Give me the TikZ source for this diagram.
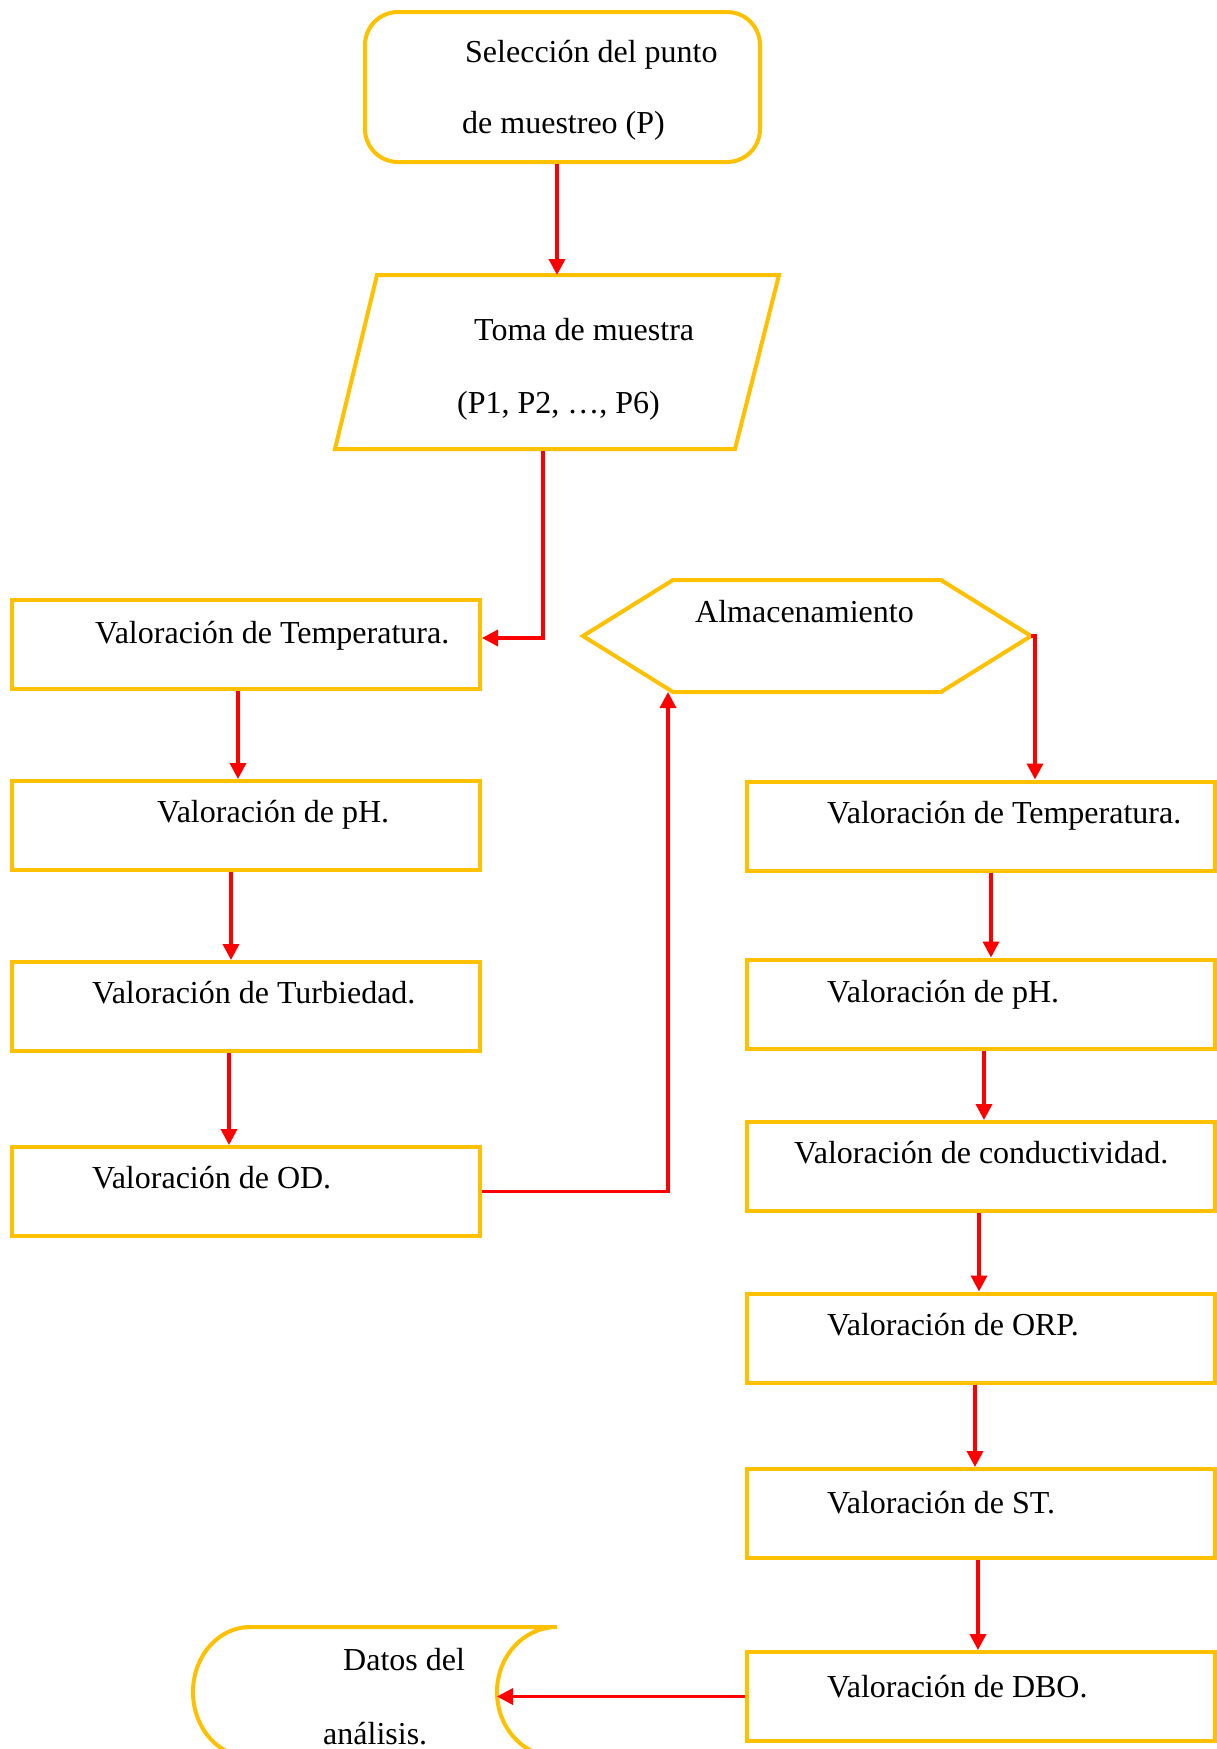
\documentclass[tikz,border=0pt]{standalone}
\usepackage{fontspec}
\setmainfont{Liberation Serif}
\usetikzlibrary{arrows.meta}
\definecolor{amarillo}{HTML}{FFC000}
\definecolor{rojo}{HTML}{FF0000}

\begin{document}
\begin{tikzpicture}[x=1pt, y=-1pt,
    forma/.style={draw=amarillo, line width=4pt},
    caja/.style={forma, minimum width=468pt, minimum height=89pt, inner sep=0pt},
    texto/.style={anchor=west, inner sep=0pt, text height=21pt, text depth=0pt, font=\fontsize{32}{38}\selectfont},
    flecha/.style={draw=rojo, line width=3.5pt, -{Triangle[length=16pt, width=16pt]}}]
    \useasboundingbox (0,0) rectangle (1217,1749);

    \node[forma, rounded corners=33pt, minimum width=395pt, minimum height=150pt, inner sep=0pt] (sel) at (562.5,87) {};
    \node[texto] (selA) at (465,52) {Selección del punto};
    \node[texto] (selB) at (462,123) {de muestreo (P)};

    \draw[forma] (335,449) -- (377,275) -- (779,275) -- (735,449) -- cycle;
    \coordinate (tomaN) at (557,275);
    \coordinate (tomaS) at (543,451);
    \node[texto] (tomaA) at (474,330) {Toma de muestra};
    \node[texto] (tomaB) at (457,403) {(P1, P2, …, P6)};

    \draw[forma] (583,636) -- (673,580) -- (941,580) -- (1031,636) -- (941,692) -- (673,692) -- cycle;
    \coordinate (almR) at (1031,636);
    \coordinate (almB) at (668,692);
    \node[texto] (almA) at (695,612) {Almacenamiento};

    \node[caja] (tempA) at (246,644.5) {};
    \node[caja] (phA) at (246,825.5) {};
    \node[caja] (turb) at (246,1006.5) {};
    \node[caja] (od) at (246,1191.5) {};
    \node[texto] (tempAtxt) at (95,633) {Valoración de Temperatura.};
    \node[texto] (phAtxt) at (157,812) {Valoración de pH.};
    \node[texto] (turbtxt) at (92,993) {Valoración de Turbiedad.};
    \node[texto] (odtxt) at (92,1178) {Valoración de OD.};

    \node[caja] (tempB) at (981,826) {};
    \node[caja] (phB) at (981,1004) {};
    \node[caja] (cond) at (981,1166.5) {};
    \node[caja] (orp) at (981,1338) {};
    \node[caja] (st) at (981,1513.5) {};
    \node[caja] (dbo) at (981,1696.5) {};
    \node[texto] (tempBtxt) at (827,813) {Valoración de Temperatura.};
    \node[texto] (phBtxt) at (827,992) {Valoración de pH.};
    \node[texto] (condtxt) at (794,1153) {Valoración de conductividad.};
    \node[texto] (orptxt) at (827,1325) {Valoración de ORP.};
    \node[texto] (sttxt) at (827,1502.5) {Valoración de ST.};
    \node[texto] (dbotxt) at (827,1686.5) {Valoración de DBO.};

    \draw[forma] (250,1627) -- (557,1627) arc[start angle=90, end angle=270, x radius=60pt, y radius=65pt]
        -- (250,1757) arc[start angle=270, end angle=90, x radius=57pt, y radius=65pt] -- cycle;
    \coordinate (datosE) at (497,1693);
    \node[texto] (datosA) at (343,1660) {Datos del};
    \node[texto] (datosB) at (323,1734) {análisis.};

    \draw[flecha] (sel.south -| tomaN) -- (tomaN);
    \draw[flecha] (tomaS) |- ([yshift=6.5pt]tempA.east);
    \draw[flecha] ([xshift=-8pt]tempA.south) -- ([xshift=-8pt]phA.north);
    \draw[flecha] ([xshift=-15pt]phA.south) -- ([xshift=-15pt]turb.north);
    \draw[flecha] ([xshift=-17pt]turb.south) -- ([xshift=-17pt]od.north);
    \draw[flecha] (od.east) -| (almB);
    \draw[flecha] (almR) -| ([xshift=54pt]tempB.north);
    \draw[flecha] ([xshift=10pt]tempB.south) -- ([xshift=10pt]phB.north);
    \draw[flecha] ([xshift=3pt]phB.south) -- ([xshift=3pt]cond.north);
    \draw[flecha] ([xshift=-2pt]cond.south) -- ([xshift=-2pt]orp.north);
    \draw[flecha] ([xshift=-6pt]orp.south) -- ([xshift=-6pt]st.north);
    \draw[flecha] ([xshift=-3pt]st.south) -- ([xshift=-3pt]dbo.north);
    \draw[flecha] (dbo.west) -- (dbo.west -| datosE);
\end{tikzpicture}
\end{document}
